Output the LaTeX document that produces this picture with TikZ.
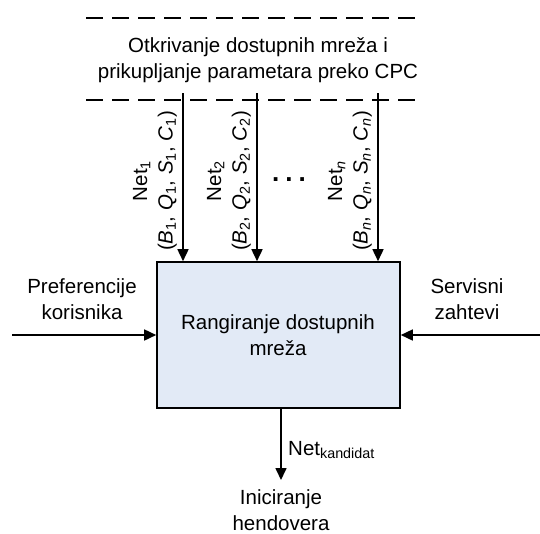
\documentclass[tikz,border=0pt]{standalone}
\usepackage{fontspec}
\setmainfont{Liberation Sans}
\usetikzlibrary{arrows.meta}
\definecolor{boxfill}{RGB}{226,234,246}
\begin{document}
\begin{tikzpicture}[x=1pt,y=-1pt,
  every node/.style={font=\fontsize{20.5}{25.5}\selectfont, inner sep=0pt, align=center},
  conn/.style={line width=1.6pt, -{Triangle[length=12pt,width=11pt]}},
  dashline/.style={line width=1.8pt, dash pattern=on 17pt off 9pt},
  mainbox/.style={draw, line width=1.6pt, fill=boxfill, minimum width=243pt, minimum height=146pt},
  rotlbl/.style={rotate=90, anchor=center}]
\useasboundingbox (0,0) rectangle (540,533);
\coordinate (d1a) at (86,18); \coordinate (d1b) at (423,18);
\coordinate (d2a) at (86,100); \coordinate (d2b) at (423,100);
\draw[dashline] (d1a) -- (d1b);
\draw[dashline] (d2a) -- (d2b);
\node (disc) at (258,60) {Otkrivanje dostupnih mreža i\\prikupljanje parametara preko CPC};
\node[mainbox] (box) at (278.5,335) {};
\node (boxt) at (278,335) {Rangiranje dostupnih\\mreža};
\coordinate (s1) at (183,93); \coordinate (s2) at (257,93); \coordinate (s3) at (378,93);
\draw[conn] (s1) -- (s1 |- box.north);
\draw[conn] (s2) -- (s2 |- box.north);
\draw[conn] (s3) -- (s3 |- box.north);
\node[rotlbl] (l1) at (155,181) {Net\textsubscript{1}\\(\textit{B}\textsubscript{1}, \textit{Q}\textsubscript{1}, \textit{S}\textsubscript{1}, \textit{C}\textsubscript{1})};
\node[rotlbl] (l2) at (229,181) {Net\textsubscript{2}\\(\textit{B}\textsubscript{2}, \textit{Q}\textsubscript{2}, \textit{S}\textsubscript{2}, \textit{C}\textsubscript{2})};
\node[rotlbl] (l3) at (350,181) {Net\textsubscript{\textit{n}}\\(\textit{B}\textsubscript{\textit{n}}, \textit{Q}\textsubscript{\textit{n}}, \textit{S}\textsubscript{\textit{n}}, \textit{C}\textsubscript{\textit{n}})};
\node[font=\fontsize{26}{26}\selectfont\bfseries] (dots) at (289,180) {.\hspace{6pt}.\hspace{6pt}.};
\node (pref) at (82,299) {Preferencije\\korisnika};
\node (serv) at (467,299) {Servisni\\zahtevi};
\coordinate (la) at (12,335); \coordinate (ra) at (540,335);
\draw[conn] (la) -- (box.west |- la);
\draw[conn] (ra) -- (box.east |- ra);
\coordinate (be) at (281,480);
\draw[conn] (be |- box.south) -- (be);
\node[anchor=west] (nk) at (288,450) {Net\textsubscript{kandidat}};
\node (init) at (281,510) {Iniciranje\\hendovera};
\end{tikzpicture}
\end{document}
